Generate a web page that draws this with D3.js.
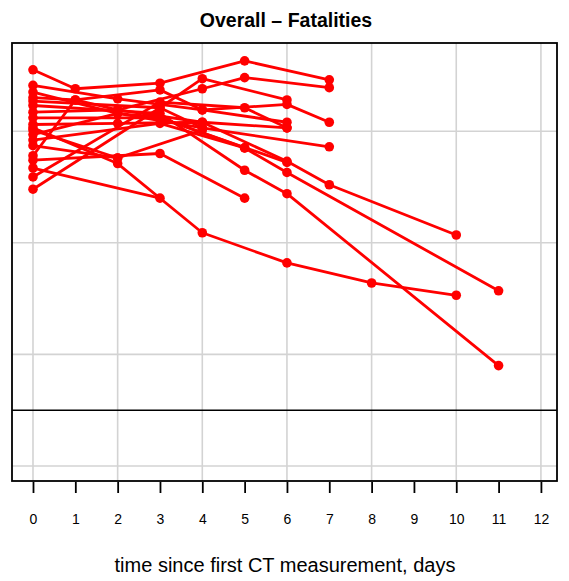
<!DOCTYPE html>
<html>
<head>
<meta charset="utf-8">
<script src="https://cdn.jsdelivr.net/npm/d3@7"></script>
<style>
  html, body { margin: 0; padding: 0; background: #fff; }
  svg { display: block; }
</style>
</head>
<body>
<script>
// ---- data ----
const title = "Overall \u2013 Fatalities";
const xLabel = "time since first CT measurement, days";
const xTicks = [0,1,2,3,4,5,6,7,8,9,10,11,12];
const xGrid = [0,2,4,6,8,10,12];
const yGrid = [0,1,2,3];
const refLine = 0.5;

const seriesDays = [
  [0,1,3,5,7],
  [0,2,4,5,7],
  [0,2,4,6,8,10],
  [0,3],
  [0,3,5,6,11],
  [0,2,4,6,7,10],
  [0,3,5,6,11],
  [0,3,5],
  [0,2,4,6,7],
  [0,2,4,7],
  [0,3,4,6],
  [0,3,5,6],
  [0,1,3,4,6],
  [0,2,3,5],
  [0,2,4],
  [0,1,2,4,6],
  [0,3,4],
  [0,3,6],
  [0,2]
];
const seriesValues = [
  [3.55,3.38,3.43,3.63,3.46],
  [3.17,3.19,3.38,3.48,3.39],
  [3.03,2.71,2.09,1.82,1.64,1.53],
  [2.67,2.40],
  [3.23,3.16,2.65,2.44,0.90],
  [3.06,3.07,3.08,2.73,2.52,2.07],
  [2.92,3.07,2.85,2.63,1.57],
  [2.74,2.80,2.40],
  [3.41,3.29,3.19,3.24,3.08],
  [2.97,3.16,3.03,2.86],
  [2.48,3.21,3.47,3.28],
  [2.59,3.26,3.21,3.03],
  [2.78,3.28,3.37,3.19,3.08],
  [3.35,3.16,3.12,2.85],
  [2.87,2.76,3.01],
  [3.30,3.28,3.19,3.08,3.03],
  [3.27,3.21,3.03],
  [3.12,3.12,2.72],
  [3.01,2.76]
];

// ---- layout ----
const W = 569, H = 581;
const box = {left: 12, right: 557, top: 43, bottom: 481};

const x = d3.scaleLinear().domain([-0.496, 12.38]).range([box.left, box.right]);
const y = d3.scaleLinear().domain([-0.134, 3.79]).range([box.bottom, box.top]);

const svg = d3.select("body").append("svg")
  .attr("width", W).attr("height", H)
  .style("font-family", "'Liberation Sans', Arial, Helvetica, sans-serif");

// grid
svg.append("g").selectAll("line").data(xGrid).join("line")
  .attr("x1", d => x(d)).attr("x2", d => x(d))
  .attr("y1", box.top).attr("y2", box.bottom)
  .attr("stroke", "#d3d3d3").attr("stroke-width", 1.6);
svg.append("g").selectAll("line").data(yGrid).join("line")
  .attr("x1", box.left).attr("x2", box.right)
  .attr("y1", d => y(d)).attr("y2", d => y(d))
  .attr("stroke", "#d3d3d3").attr("stroke-width", 1.6);

// reference line
svg.append("line")
  .attr("x1", box.left).attr("x2", box.right)
  .attr("y1", y(refLine)).attr("y2", y(refLine))
  .attr("stroke", "#000").attr("stroke-width", 1.6);

// series
const series = seriesDays.map((ds, i) => ds.map((d, j) => ({day: d, v: seriesValues[i][j]})));
const line = d3.line().x(d => x(d.day)).y(d => y(d.v));
const gS = svg.append("g");
gS.selectAll("path").data(series).join("path")
  .attr("d", line)
  .attr("fill", "none").attr("stroke", "#ff0000").attr("stroke-width", 2.8)
  .attr("stroke-linejoin", "round");
gS.selectAll("circle").data(series.flat()).join("circle")
  .attr("cx", d => x(d.day)).attr("cy", d => y(d.v)).attr("r", 4.8)
  .attr("fill", "#ff0000");

// box
svg.append("rect")
  .attr("x", box.left).attr("y", box.top)
  .attr("width", box.right - box.left).attr("height", box.bottom - box.top)
  .attr("fill", "none").attr("stroke", "#000").attr("stroke-width", 1.8);

// x axis
const xAxis = d3.axisBottom(x).tickValues(xTicks).tickSize(11).tickPadding(21).tickFormat(d3.format("d"));
const gx = svg.append("g").attr("transform", `translate(0,${box.bottom + 1})`).call(xAxis);
gx.select(".domain").remove();
gx.selectAll(".tick line").attr("stroke", "#000").attr("stroke-width", 1.8);
gx.selectAll(".tick text").attr("fill", "#000").style("font-size", "14px")
  .style("font-family", "'Liberation Sans', Arial, sans-serif");

// labels
svg.append("text").attr("x", 286).attr("y", 27).attr("text-anchor", "middle")
  .style("font-size", "19.5px").style("font-weight", "bold").text(title);
svg.append("text").attr("x", 285).attr("y", 572).attr("text-anchor", "middle")
  .style("font-size", "20px").text(xLabel);
</script>
</body>
</html>
